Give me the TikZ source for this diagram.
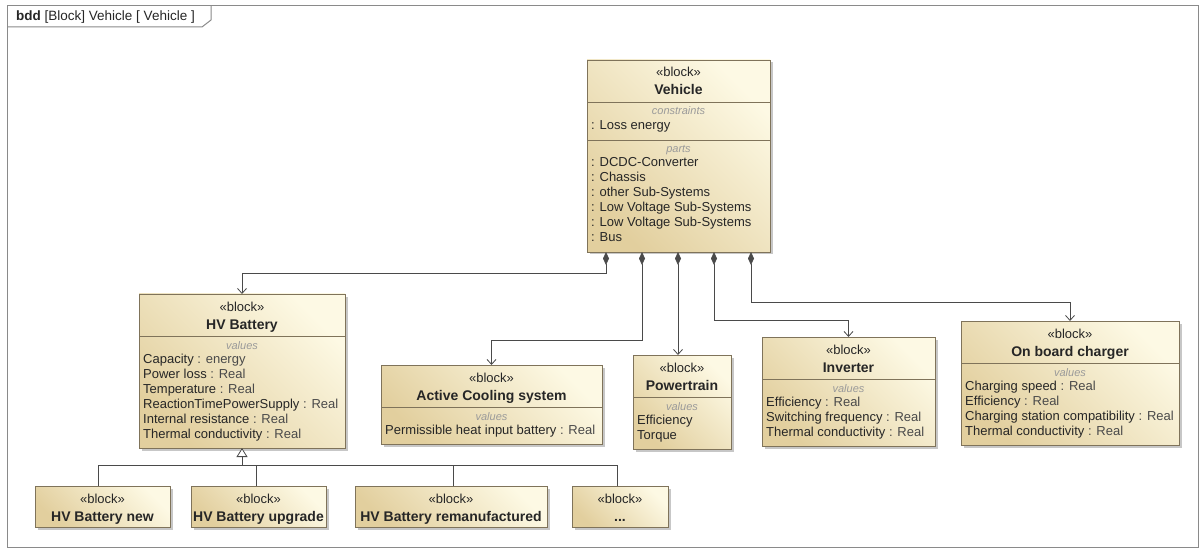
\documentclass[tikz,border=0pt]{standalone}
\usepackage{fontspec}
\setmainfont{Liberation Sans}
\usetikzlibrary{arrows.meta,shadows}
\definecolor{blight}{HTML}{FDF9E4}
\definecolor{bdark}{HTML}{E2CF9E}
\definecolor{bline}{HTML}{7F735A}
\definecolor{txt}{HTML}{262626}
\definecolor{typec}{HTML}{4A4A4A}
\definecolor{lbl}{HTML}{9A9A9A}
\definecolor{conn}{HTML}{4A4A4A}
\definecolor{framec}{HTML}{8A8A8A}
\newcommand\mkblock[5]{%
  \node[blockbox, minimum width=(#4-#2)*1pt, minimum height=(#5-#3)*1pt] (#1) at (#2,#3) {};}
\newcommand\ty[1]{\textcolor{typec}{#1}}
\tikzset{
  blockbox/.style={draw=bline, line width=0.9pt, top color=blight, bottom color=bdark,
    shading angle=-45, inner sep=0pt, outer sep=0pt, anchor=north west,
    drop shadow={shadow xshift=2.5pt, shadow yshift=-2.5pt, fill=black, opacity=0.22}},
  stereo/.style={inner sep=0pt, anchor=base, text=txt, font=\fontsize{13}{15}\selectfont},
  bname/.style={inner sep=0pt, anchor=base, text=txt, font=\fontsize{14}{16}\selectfont\bfseries},
  clabel/.style={inner sep=0pt, anchor=base, text=lbl, font=\fontsize{11}{13}\selectfont\itshape},
  prop/.style={inner sep=0pt, anchor=base west, text=txt, font=\fontsize{13}{15}\selectfont},
  divl/.style={draw=bline, line width=0.8pt},
  comp/.style={draw=conn, line width=0.8pt, {Diamond[length=13pt,width=6pt,fill=conn]}-{Straight Barb[length=5pt,width=9pt]}},
  genl/.style={draw=conn, line width=0.8pt},
  gen/.style={draw=conn, line width=0.8pt, -{Triangle[open, length=9pt, width=11pt, fill=white]}},
}
\begin{document}
\begin{tikzpicture}[x=1pt,y=-1pt]
\fill[white] (0,0) rectangle (1200,548);
\useasboundingbox (0,0) rectangle (1200,548);
% frame
\draw[framec, line width=1pt] (7,6) rectangle (1198,547);
\draw[framec, line width=1pt] (7,27) -- (202,27) -- (211,20) -- (211,6);
\node[inner sep=0pt, anchor=base west, text=txt, font=\fontsize{13.5}{15}\selectfont] (title) at (16,21) {\textbf{bdd} [Block] Vehicle [ Vehicle ]};

% Vehicle
\mkblock{veh}{587}{60}{770}{252}
\node[stereo] (veh-s) at (678.5,77) {«block»};
\node[bname] (veh-n) at (678.5,95) {Vehicle};
\draw[divl] (587,102) -- (770,102);
\node[clabel] (veh-c) at (678.5,115) {constraints};
\node[prop] (veh-c1) at (591,129.5) {: Loss energy};
\draw[divl] (587,140) -- (770,140);
\node[clabel] (veh-p) at (678.5,153) {parts};
\node[prop] (veh-p1) at (591,167) {: DCDC-Converter};
\node[prop] (veh-p2) at (591,182) {: Chassis};
\node[prop] (veh-p3) at (591,197) {: other Sub-Systems};
\node[prop] (veh-p4) at (591,212) {: Low Voltage Sub-Systems};
\node[prop] (veh-p5) at (591,227) {: Low Voltage Sub-Systems};
\node[prop] (veh-p6) at (591,242) {: Bus};

% HV Battery
\mkblock{hvb}{139}{294}{345}{448}
\node[stereo] (hvb-s) at (242,311) {«block»};
\node[bname] (hvb-n) at (242,329) {HV Battery};
\draw[divl] (139,336) -- (345,336);
\node[clabel] (hvb-v) at (242,349) {values};
\node[prop] (hvb-1) at (143,363) {Capacity \ty{: energy}};
\node[prop] (hvb-2) at (143,378) {Power loss \ty{: Real}};
\node[prop] (hvb-3) at (143,393) {Temperature \ty{: Real}};
\node[prop] (hvb-4) at (143,408) {ReactionTimePowerSupply \ty{: Real}};
\node[prop] (hvb-5) at (143,423) {Internal resistance \ty{: Real}};
\node[prop] (hvb-6) at (143,438) {Thermal conductivity \ty{: Real}};

% Active Cooling system
\mkblock{acs}{381}{365}{602}{444}
\node[stereo] (acs-s) at (491.5,382) {«block»};
\node[bname] (acs-n) at (491.5,400) {Active Cooling system};
\draw[divl] (381,407) -- (602,407);
\node[clabel] (acs-v) at (491.5,420) {values};
\node[prop] (acs-1) at (385,434) {Permissible heat input battery \ty{: Real}};

% Powertrain
\mkblock{pwt}{633}{355}{731}{449}
\node[stereo] (pwt-s) at (682,372) {«block»};
\node[bname] (pwt-n) at (682,390) {Powertrain};
\draw[divl] (633,397) -- (731,397);
\node[clabel] (pwt-v) at (682,410) {values};
\node[prop] (pwt-1) at (637,424) {Efficiency};
\node[prop] (pwt-2) at (637,439) {Torque};

% Inverter
\mkblock{inv}{762}{337}{935}{446}
\node[stereo] (inv-s) at (848.5,354) {«block»};
\node[bname] (inv-n) at (848.5,372) {Inverter};
\draw[divl] (762,379) -- (935,379);
\node[clabel] (inv-v) at (848.5,392) {values};
\node[prop] (inv-1) at (766,406) {Efficiency \ty{: Real}};
\node[prop] (inv-2) at (766,421) {Switching frequency \ty{: Real}};
\node[prop] (inv-3) at (766,436) {Thermal conductivity \ty{: Real}};

% On board charger
\mkblock{obc}{961}{321}{1179}{445}
\node[stereo] (obc-s) at (1070,338) {«block»};
\node[bname] (obc-n) at (1070,356) {On board charger};
\draw[divl] (961,363) -- (1179,363);
\node[clabel] (obc-v) at (1070,376) {values};
\node[prop] (obc-1) at (965,390) {Charging speed \ty{: Real}};
\node[prop] (obc-2) at (965,405) {Efficiency \ty{: Real}};
\node[prop] (obc-3) at (965,420) {Charging station compatibility \ty{: Real}};
\node[prop] (obc-4) at (965,435) {Thermal conductivity \ty{: Real}};

% bottom blocks
\mkblock{b1}{35}{486}{170}{527}
\node[stereo] (b1-s) at (102.5,503) {«block»};
\node[bname] (b1-n) at (102.5,521) {HV Battery new};
\mkblock{b2}{191}{486}{326}{527}
\node[stereo] (b2-s) at (258.5,503) {«block»};
\node[bname] (b2-n) at (258.5,521) {HV Battery upgrade};
\mkblock{b3}{355}{486}{547}{527}
\node[stereo] (b3-s) at (451,503) {«block»};
\node[bname] (b3-n) at (451,521) {HV Battery remanufactured};
\mkblock{b4}{572}{486}{668}{527}
\node[stereo] (b4-s) at (620,503) {«block»};
\node[bname] (b4-n) at (620,521) {...};

% compositions
\coordinate (v1) at (606,252);
\coordinate (v2) at (642,252);
\coordinate (v3) at (678,252);
\coordinate (v4) at (714,252);
\coordinate (v5) at (751,252);
\draw[comp] (v1) -- ++(0,21) -| (hvb.north);
\draw[comp] (v2) -- ++(0,88) -| (acs.north);
\draw[comp] (v3) -- (v3 |- pwt.north);
\draw[comp] (v4) -- ++(0,68) -| (inv.north);
\draw[comp] (v5) -- ++(0,50) -| (obc.north);

% generalizations
\coordinate (gj) at (242,465);
\coordinate (g1) at (98,486);
\coordinate (g2) at (256,486);
\coordinate (g3) at (453,486);
\coordinate (g4) at (617,486);
\draw[genl] (g1) |- (gj);
\draw[genl] (g2) |- (gj);
\draw[genl] (g3) |- (gj);
\draw[genl] (g4) |- (gj);
\draw[gen] (gj) -- (hvb.south);
\end{tikzpicture}
\end{document}
